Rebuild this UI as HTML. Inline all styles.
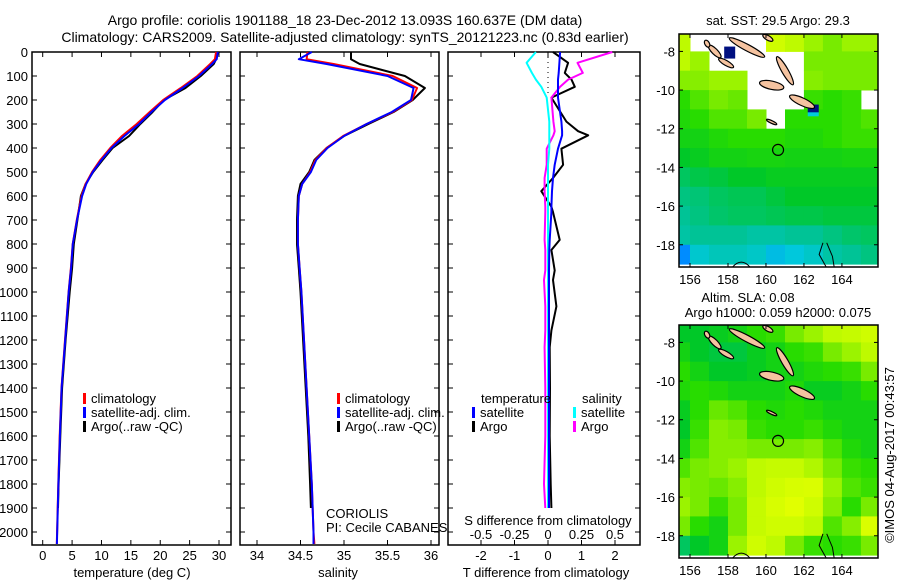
<!DOCTYPE html>
<html><head><meta charset="utf-8">
<style>
html,body{margin:0;padding:0;background:#fff;}
svg{display:block;font-family:"Liberation Sans",sans-serif;}
text{fill:#000;}
</style></head>
<body>
<svg id="fig" width="900" height="580" viewBox="0 0 900 580">
<text x="345" y="25" font-size="14" text-anchor="middle">Argo profile: coriolis 1901188_18 23-Dec-2012 13.093S 160.637E (DM data)</text>
<text x="345" y="42" font-size="14" text-anchor="middle">Climatology: CARS2009. Satellite-adjusted climatology: synTS_20121223.nc (0.83d earlier)</text>
<text x="778" y="25" font-size="13" text-anchor="middle">sat. SST: 29.5 Argo: 29.3</text>
<text x="748" y="302" font-size="13" text-anchor="middle">Altim. SLA: 0.08</text>
<text x="778" y="317" font-size="13" text-anchor="middle">Argo h1000: 0.059 h2000: 0.075</text>
<text transform="translate(894,455) rotate(-90)" font-size="13" text-anchor="middle">©IMOS 04-Aug-2017 00:43:57</text>
<g id="plots"></g>
</svg>
<script>
// ---------- profile data ----------
const depthClim = [0,30,50,100,150,200,250,300,350,400,450,500,550,600,700,800,900,1000,1200,1400,1600,1800,2000,2050];
const tempClim  = [29.5,29.3,28.5,26.3,23.5,20.5,18.2,16.0,13.5,11.5,9.8,8.4,7.3,6.6,5.8,5.1,4.8,4.4,3.8,3.2,2.9,2.65,2.45,2.4];
const tempSat   = [29.8,29.6,28.8,26.6,23.8,20.8,18.5,16.4,13.9,11.7,10.0,8.5,7.4,6.7,5.83,5.13,4.83,4.43,3.83,3.22,2.92,2.67,2.47,2.42];
const depthArgo = [0,30,50,100,150,200,250,300,350,400,450,500,550,600,700,800,900,1000,1200,1400,1600,1800,1900];
const tempArgo  = [29.6,29.5,29.1,26.9,24.3,20.6,18.7,16.6,14.7,11.9,10.2,8.6,7.3,6.5,5.9,5.3,5.0,4.6,3.9,3.3,3.0,2.7,2.6];
const salClim   = [34.58,34.57,34.88,35.56,35.84,35.78,35.56,35.26,34.99,34.8,34.67,34.61,34.52,34.48,34.47,34.47,34.49,34.51,34.54,34.57,34.6,34.63,34.65,34.66];
const salSat    = [34.63,34.48,34.8,35.5,35.8,35.77,35.55,35.26,35.0,34.81,34.68,34.62,34.52,34.48,34.47,34.47,34.49,34.51,34.54,34.57,34.6,34.63,34.65,34.65];
const salArgo   = [35.08,35.08,35.18,35.7,35.93,35.79,35.57,35.28,35.0,34.8,34.66,34.6,34.5,34.47,34.46,34.46,34.48,34.5,34.53,34.56,34.59,34.61,34.62];
const depthDiff = [0,45,87,115,145,190,290,330,347,403,470,525,580,645,667,783,825,910,950,1060,1160,1230,1400,1600,1800,1900];
const tDiffSat  = [0.36,0.34,0.32,0.3,0.3,0.3,0.4,0.42,0.42,0.3,0.2,0.15,0.12,0.1,0.1,0.05,0.04,0.03,0.03,0.03,0.03,0.03,0.03,0.03,0.03,0.03];
const tDiffArgo = [0.15,0.6,0.5,0.7,0.8,0.1,0.55,0.9,1.2,0.4,0.45,0.15,-0.2,0.1,0.15,0.35,0.1,0.2,0.15,0.25,0.1,0.05,0.06,0.05,0.08,0.1];
const sDiffSat  = [-0.09,-0.16,-0.12,-0.09,-0.05,-0.01,0.01,0.01,0.01,0.01,0.0,0.0,0.0,0.0,0.0,0.0,0.0,0.0,0.0,0.0,0.0,0.0,0.0,0.0,0.0,0.0];
const sDiffArgo = [0.48,0.22,0.26,0.15,0.09,0.025,0.04,0.05,0.04,-0.01,-0.01,-0.025,-0.025,-0.02,-0.02,-0.025,-0.02,-0.02,-0.03,-0.02,-0.02,-0.025,-0.02,-0.02,-0.03,-0.02];
const depthTicks = [0,100,200,300,400,500,600,700,800,900,1000,1100,1200,1300,1400,1500,1600,1700,1800,1900,2000];
const tempTicks = [0,5,10,15,20,25,30];
const salTicks = [34,34.5,35,35.5,36];
const salTickLabels = ["34","34.5","35","35.5","36"];
const tdTicks = [-2,-1,0,1,2];
const sdTicks = [-0.5,-0.25,0,0.25,0.5];
const sdTickLabels = ["-0.5","-0.25","0","0.25","0.5"];
// ---------- map data (1 deg cells, lon 155.5..165.5 centres, lat -7.5..-18.5) ----------
const N = null;
const sstGrid = [
 [0.8,N,N,N,N,0.85,0.8,0.75,0.7,0.75,0.75],
 [0.8,0.75,N,N,N,N,N,0.7,0.7,0.7,0.7],
 [0.72,0.72,0.75,0.75,N,N,N,0.72,0.7,0.7,0.7],
 [0.6,0.65,0.7,0.68,N,N,N,0.62,0.6,0.62,N],
 [0.58,0.6,0.65,0.65,0.7,N,0.6,0.6,0.6,0.62,0.65],
 [0.55,0.55,0.58,0.6,0.6,0.6,0.58,0.58,0.6,0.62,0.62],
 [0.5,0.52,0.55,0.55,0.56,0.56,0.55,0.55,0.55,0.56,0.56],
 [0.45,0.47,0.48,0.5,0.5,0.52,0.52,0.52,0.52,0.52,0.52],
 [0.42,0.43,0.45,0.46,0.46,0.48,0.5,0.5,0.5,0.5,0.5],
 [0.4,0.42,0.44,0.45,0.45,0.46,0.47,0.47,0.48,0.48,0.48],
 [0.38,0.4,0.4,0.4,0.38,0.38,0.4,0.4,0.42,0.44,0.45],
 [0.2,0.32,0.35,0.35,0.33,0.28,0.3,0.33,0.38,0.4,0.42]];
const slaGrid = [
 [0.5,0.5,0.52,0.55,0.6,0.62,0.7,0.75,0.8,0.82,0.85],
 [0.55,0.5,0.48,0.48,0.52,0.55,0.6,0.62,0.7,0.75,0.8],
 [0.6,0.55,0.5,0.5,0.52,0.55,0.55,0.58,0.6,0.62,0.7],
 [0.58,0.6,0.58,0.55,0.55,0.55,0.58,0.52,0.52,0.55,0.6],
 [0.52,0.6,0.68,0.65,0.6,0.58,0.6,0.58,0.55,0.55,0.55],
 [0.5,0.62,0.72,0.7,0.62,0.6,0.6,0.62,0.58,0.55,0.55],
 [0.55,0.65,0.72,0.72,0.7,0.7,0.7,0.72,0.65,0.58,0.55],
 [0.65,0.7,0.72,0.75,0.8,0.82,0.82,0.78,0.7,0.62,0.6],
 [0.72,0.7,0.68,0.72,0.8,0.85,0.87,0.88,0.75,0.65,0.62],
 [0.75,0.7,0.62,0.7,0.82,0.87,0.9,0.85,0.72,0.6,0.7],
 [0.7,0.6,0.55,0.7,0.82,0.85,0.85,0.8,0.65,0.72,0.88],
 [0.45,0.5,0.55,0.75,0.85,0.8,0.7,0.62,0.6,0.62,0.7]];
const cellLons = [155.5,156.5,157.5,158.5,159.5,160.5,161.5,162.5,163.5,164.5,165.5];
const cellLats = [-7.5,-8.5,-9.5,-10.5,-11.5,-12.5,-13.5,-14.5,-15.5,-16.5,-17.5,-18.5];
const lonTicks = [156,158,160,162,164];
const latTicks = [-8,-10,-12,-14,-16,-18];
// islands: [lon, lat, rx(deg), ry(deg), angle]
const islands = [[159.0,-7.8,1.05,0.17,28],[157.3,-8.0,0.45,0.15,45],[157.9,-8.6,0.45,0.13,30],[156.9,-7.6,0.2,0.12,60],
 [161.0,-9.0,0.85,0.17,60],[160.3,-9.75,0.65,0.22,12],[161.9,-10.6,0.72,0.2,25],[160.3,-11.65,0.3,0.07,25],[160.1,-7.3,0.3,0.12,30]];
const argoLon = 160.637, argoLat = -13.093;

const NS='http://www.w3.org/2000/svg';
const root=document.getElementById('plots');
function el(tag,attrs,parent){const e=document.createElementNS(NS,tag);for(const k in attrs)e.setAttribute(k,attrs[k]);(parent||root).appendChild(e);return e;}
function txt(x,y,s,anchor,size,parent){const t=el('text',{x:x,y:y,'font-size':size||13,'text-anchor':anchor||'middle'},parent);t.textContent=s;return t;}

// depth axis shared
const yD = d => 52 + d*0.24;
const TOP=52, BOT=545;

function frame(x0,x1,name){
  const g=el('g',{});
  
  
  el('rect',{x:x0,y:TOP,width:x1-x0,height:BOT-TOP,fill:'none',stroke:'#000','stroke-width':1.5},g);
  depthTicks.forEach(d=>{el('line',{x1:x0,x2:x0+5,y1:yD(d),y2:yD(d),stroke:'#000'},g);el('line',{x1:x1-5,x2:x1,y1:yD(d),y2:yD(d),stroke:'#000'},g);});
  return g;
}
function line(xs,ds,fx,color,w,name,parent){
  const pts=xs.map((v,i)=>fx(v).toFixed(1)+','+yD(ds[i]).toFixed(1)).join(' ');
  const p=el('polyline',{points:pts,fill:'none',stroke:color,'stroke-width':w,'stroke-linejoin':'round'},parent);
  
  
  return p;
}
function legendEntry(x,y,color,label,name,parent){
  const g=el('g',{},parent);
  
  
  el('rect',{x:x,y:y-10,width:3,height:11,fill:color},g);
  txt(x+8,y,label,'start',13,g);
}

// --- Panel 1 temperature
const xT = t => 42.7 + t*5.877;
const g1=frame(32,231,'temperature-panel');
depthTicks.forEach(d=>txt(28,yD(d)+5,String(d),'end',13,g1));
tempTicks.forEach(t=>{el('line',{x1:xT(t),x2:xT(t),y1:TOP,y2:TOP+5,stroke:'#000'},g1);el('line',{x1:xT(t),x2:xT(t),y1:BOT-5,y2:BOT,stroke:'#000'},g1);txt(xT(t),560,String(t),'middle',13,g1);});
txt(132,577,'temperature (deg C)','middle',13,g1);
line(tempArgo,depthArgo,xT,'#000',2,'temp-argo-line',g1);
line(tempClim,depthClim,xT,'#f00',2,'temp-climatology-line',g1);
line(tempSat,depthClim,xT,'#00f',2,'temp-satellite-line',g1);
legendEntry(83,403,'#f00','climatology','temp-legend-climatology',g1);
legendEntry(83,417,'#00f','satellite-adj. clim.','temp-legend-satellite',g1);
legendEntry(83,431,'#000','Argo(..raw -QC)','temp-legend-argo',g1);

// --- Panel 2 salinity
const xS = s => 257 + (s-34)*87;
const g2=frame(240,439,'salinity-panel');
salTicks.forEach((s,i)=>{el('line',{x1:xS(s),x2:xS(s),y1:TOP,y2:TOP+5,stroke:'#000'},g2);el('line',{x1:xS(s),x2:xS(s),y1:BOT-5,y2:BOT,stroke:'#000'},g2);txt(xS(s),560,salTickLabels[i],'middle',13,g2);});
txt(338,577,'salinity','middle',13,g2);
line(salArgo,depthArgo,xS,'#000',2,'sal-argo-line',g2);
line(salClim,depthClim,xS,'#f00',2,'sal-climatology-line',g2);
line(salSat,depthClim,xS,'#00f',2,'sal-satellite-line',g2);
legendEntry(337,403,'#f00','climatology','sal-legend-climatology',g2);
legendEntry(337,417,'#00f','satellite-adj. clim.','sal-legend-satellite',g2);
legendEntry(337,431,'#000','Argo(..raw -QC)','sal-legend-argo',g2);
txt(326,518,'CORIOLIS','start',13,g2);
txt(326,532,'PI: Cecile CABANES','start',13,g2);

// --- Panel 3 differences
const xTD = v => 548 + v*33.5;
const xSD = v => 548 + v*134;
const g3=frame(448,640,'difference-panel');
tdTicks.forEach(t=>{el('line',{x1:xTD(t),x2:xTD(t),y1:TOP,y2:TOP+5,stroke:'#000'},g3);el('line',{x1:xTD(t),x2:xTD(t),y1:BOT-5,y2:BOT,stroke:'#000'},g3);txt(xTD(t),560,String(t),'middle',13,g3);});
sdTicks.forEach((s,i)=>txt(xSD(s),539,sdTickLabels[i],'middle',13,g3));
txt(548,525,'S difference from climatology','middle',13,g3);
txt(546,577,'T difference from climatology','middle',13,g3);
el('line',{x1:548,x2:548,y1:TOP,y2:yD(180),stroke:'#000','stroke-dasharray':'1,4'},g3);
line(tDiffArgo,depthDiff,xTD,'#000',2,'tdiff-argo-line',g3);
line(sDiffArgo,depthDiff,xSD,'#f0f',2,'sdiff-argo-line',g3);
line(sDiffSat,depthDiff,xSD,'#0ff',2,'sdiff-satellite-line',g3);
line(tDiffSat,depthDiff,xTD,'#00f',2,'tdiff-satellite-line',g3);
txt(481,403,'temperature','start',13,g3);
legendEntry(472,417,'#00f','satellite','diff-legend-t-satellite',g3);
legendEntry(472,431,'#000','Argo','diff-legend-t-argo',g3);
txt(582,403,'salinity','start',13,g3);
legendEntry(573,417,'#0ff','satellite','diff-legend-s-satellite',g3);
legendEntry(573,431,'#f0f','Argo','diff-legend-s-argo',g3);

// --- Maps
const stops=[[0,[0,0,255]],[0.2,[0,140,255]],[0.3,[0,200,220]],[0.4,[0,195,150]],[0.5,[0,200,40]],[0.6,[40,220,0]],[0.7,[120,235,0]],[0.8,[190,250,0]],[0.9,[225,255,0]],[1,[255,255,0]]];
function cmap(v){for(let i=1;i<stops.length;i++){if(v<=stops[i][0]){const a=stops[i-1],b=stops[i],f=(v-a[0])/(b[0]-a[0]);const c=a[1].map((x,k)=>Math.round(x+(b[1][k]-x)*f));return 'rgb('+c.join(',')+')';}}return 'rgb(255,255,0)';}
const LON0=155.42, LON1=165.9, LAT0=-7.1, LAT1=-19.15;
function drawMap(top,grid,name,extra){
  const L=679,R=878,H=233;
  const xL=lon=>L+(lon-LON0)/(LON1-LON0)*(R-L);
  const yL=lat=>top+(lat-LAT0)/(LAT1-LAT0)*H;
  const g=el('g',{});
  
  
  const cid='clip'+top;
  const cp=el('clipPath',{id:cid},g);el('rect',{x:L,y:top,width:R-L,height:H},cp);
  const cg=el('g',{'clip-path':'url(#'+cid+')'},g);
  el('rect',{x:L,y:top,width:R-L,height:H,fill:'#fff'},cg);
  grid.forEach((row,r)=>row.forEach((v,c)=>{
    if(v===null)return;
    const x0=xL(cellLons[c]-0.5),y0=yL(cellLats[r]+0.5);
    el('rect',{x:x0.toFixed(1),y:y0.toFixed(1),width:(xL(cellLons[c]+0.5)-x0+0.5).toFixed(1),height:(yL(cellLats[r]-0.5)-y0+0.5).toFixed(1),fill:cmap(v)},cg);
  }));
  if(extra)extra(cg,xL,yL);
  islands.forEach(is=>{
    const e=el('ellipse',{cx:xL(is[0]),cy:yL(is[1]),rx:is[2]*19,ry:is[3]*19,fill:'#f5c3a0',stroke:'#000','stroke-width':1.2,transform:'rotate('+is[4]+' '+xL(is[0])+' '+yL(is[1])+')'},cg);
    
    
  });
  el('path',{d:'M'+xL(158.2)+','+yL(-19.2)+' Q'+xL(158.7)+','+yL(-18.6)+' '+xL(159.2)+','+yL(-19.2),fill:'none',stroke:'#000'},cg);
  el('path',{d:'M'+xL(163)+','+yL(-17.9)+' L'+xL(162.8)+','+yL(-18.5)+' L'+xL(163.2)+','+yL(-19.2)+' M'+xL(163.2)+','+yL(-17.9)+' L'+xL(163.5)+','+yL(-18.6)+' L'+xL(163.6)+','+yL(-19.2),fill:'none',stroke:'#000'},cg);
  const ci=el('circle',{cx:xL(argoLon),cy:yL(argoLat),r:5.5,fill:'none',stroke:'#000','stroke-width':1.2},cg);
  
  
  el('rect',{x:L,y:top,width:R-L,height:H,fill:'none',stroke:'#000','stroke-width':1.5},g);
  lonTicks.forEach(lo=>{const x=xL(lo);el('line',{x1:x,x2:x,y1:top,y2:top+4,stroke:'#000'},g);el('line',{x1:x,x2:x,y1:top+H-4,y2:top+H,stroke:'#000'},g);txt(x,top+H+17,String(lo),'middle',13,g);});
  latTicks.forEach(la=>{const y=yL(la);el('line',{x1:L,x2:L+4,y1:y,y2:y,stroke:'#000'},g);el('line',{x1:R-4,x2:R,y1:y,y2:y,stroke:'#000'},g);txt(L-4,y+5,String(la),'end',13,g);});
}
drawMap(34,sstGrid,'sst-map',(cg,xL,yL)=>{
  el('rect',{x:xL(157.8),y:yL(-7.75),width:11,height:12,fill:'#001080'},cg);
  el('rect',{x:xL(162.2),y:yL(-10.75),width:11,height:8,fill:'#001080'},cg);
  el('rect',{x:xL(162.2),y:yL(-11.15),width:11,height:4,fill:'#00ccdd'},cg);
});
drawMap(325,slaGrid,'sla-map');
</script>
</body></html>
